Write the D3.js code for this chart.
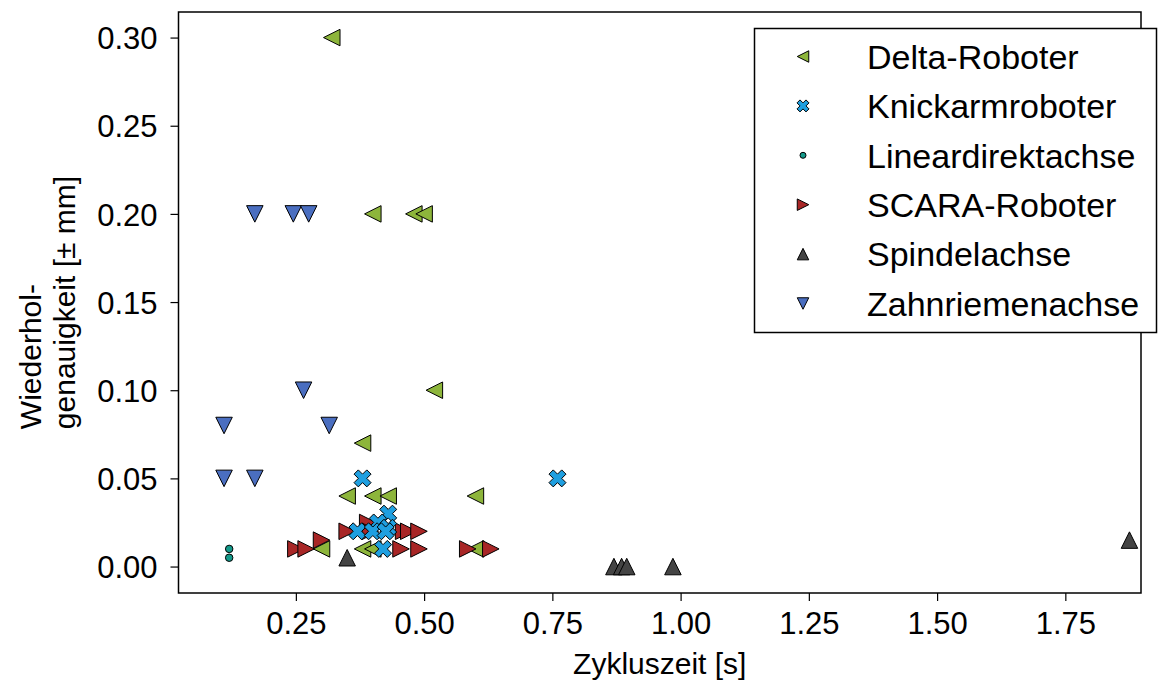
<!DOCTYPE html>
<html><head><meta charset="utf-8">
<script src="https://cdn.jsdelivr.net/npm/d3@7"></script>
<style>
html,body{margin:0;padding:0;background:#fff;}
text{font-family:"Liberation Sans",Arial,sans-serif;fill:#000;}
</style></head>
<body><svg id="chart" width="1169" height="686"></svg>
<script>
// ---- data ----
const categories = ["Delta-Roboter","Knickarmroboter","Lineardirektachse","SCARA-Roboter","Spindelachse","Zahnriemenachse"];
const colors = ["#8db53b","#1f9fe0","#14998a","#a82626","#444444","#4a6ec0"];
const shapes = ["triLeft","xFilled","point","triRight","triUp","triDown"];

const deltaX = [0.32,0.40,0.48,0.50,0.52,0.38,0.35,0.40,0.43,0.60,0.30,0.38,0.40,0.60];
const deltaY = [0.30,0.20,0.20,0.20,0.10,0.07,0.04,0.04,0.04,0.04,0.01,0.01,0.01,0.01];
const knickX = [0.38,0.76,0.43,0.41,0.43,0.37,0.40,0.425,0.42];
const knickY = [0.05,0.05,0.03,0.025,0.022,0.02,0.02,0.02,0.01];
const linX = [0.12,0.12];
const linY = [0.01,0.005];
const scaraX = [0.25,0.27,0.30,0.35,0.39,0.395,0.46,0.47,0.49,0.455,0.49,0.585,0.63];
const scaraY = [0.01,0.01,0.015,0.02,0.025,0.02,0.02,0.02,0.02,0.01,0.01,0.01,0.01];
const spindX = [0.35,0.87,0.885,0.895,0.985,1.875];
const spindY = [0.005,0,0,0,0,0.015];
const zahnX = [0.17,0.245,0.275,0.265,0.11,0.315,0.11,0.17];
const zahnY = [0.20,0.20,0.20,0.10,0.08,0.08,0.05,0.05];

const seriesX = [deltaX,knickX,linX,scaraX,spindX,zahnX];
const seriesY = [deltaY,knickY,linY,scaraY,spindY,zahnY];
const drawOrder = [0,3,1,2,4,5];

const xTicks = [0.25,0.50,0.75,1.00,1.25,1.50,1.75];
const yTicks = [0.00,0.05,0.10,0.15,0.20,0.25,0.30];
const yLabelLines = ["Wiederhol-","genauigkeit [± mm]"];

// ---- layout ----
const L = 178.5, R = 1141, T = 12, B = 593;
const x = d3.scaleLinear().domain([0.0212, 1.8975]).range([L, R]);
const y = d3.scaleLinear().domain([-0.015, 0.3145]).range([B, T]);

const svg = d3.select("#chart");

function markerPath(shape, s) {
  const h = s / 2;
  switch (shape) {
    case "triLeft": return `M${-h},0L${h},${-h}L${h},${h}Z`;
    case "triRight": return `M${h},0L${-h},${-h}L${-h},${h}Z`;
    case "triUp": return `M0,${-h}L${-h},${h}L${h},${h}Z`;
    case "triDown": return `M0,${h}L${-h},${-h}L${h},${-h}Z`;
    case "xFilled": {
      const v = [[-1,-2],[0,-1],[1,-2],[2,-1],[1,0],[2,1],[1,2],[0,1],[-1,2],[-2,1],[-1,0],[-2,-1]];
      return "M" + v.map(p => (p[0]*s/4).toFixed(2) + "," + (p[1]*s/4).toFixed(2)).join("L") + "Z";
    }
    case "point": {
      const r = s / 2;
      return `M${r},0A${r},${r},0,1,1,${-r},0A${r},${r},0,1,1,${r},0Z`;
    }
  }
}
const markerSize = {triLeft:16.5, triRight:16.5, triUp:16.5, triDown:16.5, xFilled:17, point:7.5};
const legendSize = {triLeft:11.5, triRight:11.5, triUp:11.5, triDown:11.5, xFilled:12, point:6};

// axes
const tickFont = 31, labelFont = 30, legendFont = 34;
const xAxis = svg.append("g").attr("transform", `translate(0,${B})`)
  .call(d3.axisBottom(x).tickValues(xTicks).tickFormat(d3.format(".2f")).tickSize(8).tickPadding(5));
const yAxis = svg.append("g").attr("transform", `translate(${L},0)`)
  .call(d3.axisLeft(y).tickValues(yTicks).tickFormat(d3.format(".2f")).tickSize(8).tickPadding(13));
[xAxis, yAxis].forEach(g => {
  g.select(".domain").remove();
  g.selectAll(".tick line").attr("stroke", "#000").attr("stroke-width", 1.2);
  g.selectAll(".tick text").attr("font-size", tickFont).attr("fill", "#000")
    .style("font-family", '"Liberation Sans", Arial, sans-serif');
});
xAxis.selectAll(".tick text").attr("dy", "0.9em");
yAxis.selectAll(".tick text").attr("dy", "0.36em");

// points
const pts = svg.append("g");
drawOrder.forEach(i => {
  const data = seriesX[i].map((v, k) => ({x: v, y: seriesY[i][k]}));
  pts.selectAll(null).data(data).enter().append("path")
    .attr("d", markerPath(shapes[i], markerSize[shapes[i]]))
    .attr("transform", d => `translate(${x(d.x)},${y(d.y)})`)
    .attr("fill", colors[i]).attr("stroke", "#000").attr("stroke-width", 1)
    .attr("stroke-linejoin", "miter");
});

// frame
svg.append("rect").attr("x", L).attr("y", T).attr("width", R - L).attr("height", B - T)
  .attr("fill", "none").attr("stroke", "#000").attr("stroke-width", 1.5);

// axis titles
svg.append("text").attr("x", (L + R) / 2).attr("y", 674).attr("text-anchor", "middle")
  .attr("font-size", labelFont).text("Zykluszeit [s]");
const yt = svg.append("text").attr("transform", `translate(0,${(T + B) / 2}) rotate(-90)`)
  .attr("text-anchor", "start").attr("font-size", labelFont);
const spans = yLabelLines.map((t, i) => yt.append("tspan").attr("y", 41 + i * 34).text(t));
const maxW = d3.max(spans, s => s.node().getComputedTextLength());
spans.forEach(s => s.attr("x", -maxW / 2));

// legend
const lg = svg.append("g");
lg.append("rect").attr("x", 754.5).attr("y", 28.5).attr("width", 402).attr("height", 304)
  .attr("fill", "#fff").attr("stroke", "#000").attr("stroke-width", 1.5);
categories.forEach((c, i) => {
  const cy = 56.5 + i * 49.4;
  lg.append("path").attr("d", markerPath(shapes[i], legendSize[shapes[i]]))
    .attr("transform", `translate(803,${cy})`)
    .attr("fill", colors[i]).attr("stroke", "#000").attr("stroke-width", 1);
  lg.append("text").attr("x", 867).attr("y", cy).attr("dy", "0.36em")
    .attr("font-size", legendFont).text(c);
});
</script></body></html>
